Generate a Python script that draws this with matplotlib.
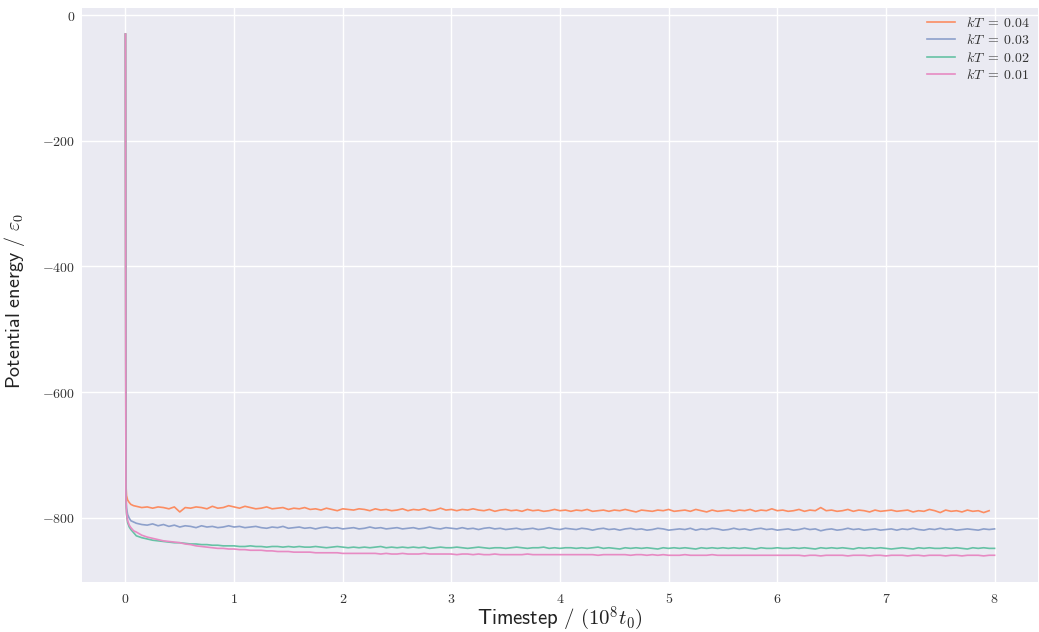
import numpy as np
import matplotlib
matplotlib.use("Agg")
import matplotlib.pyplot as plt
from matplotlib.ticker import FuncFormatter

# time axis in units of 1e8 t0: a few early samples, then every 0.05
early_t = [0.0, 0.004, 0.01, 0.02, 0.035, 0.05, 0.075]
grid_t = np.round(np.arange(0.1, 8.0001, 0.05), 3)

labels = [r"$kT\;=\;0.04$", r"$kT\;=\;0.03$", r"$kT\;=\;0.02$", r"$kT\;=\;0.01$"]
colors = ["#fc8d62", "#8da0cb", "#66c2a5", "#e78ac3"]

energy_kt004 = [
    -30, -745, -765, -772, -776, -779, -781,
    -782, -784, -783, -785, -783, -784, -786, -783, -791, -784,
    -785, -783, -784, -786, -782, -785, -784, -781, -783, -785,
    -782, -784, -786, -785, -783, -786, -785, -784, -787, -785,
    -786, -784, -787, -786, -788, -785, -787, -789, -786, -787,
    -788, -786, -787, -789, -786, -788, -787, -789, -788, -786,
    -789, -787, -788, -786, -789, -788, -785, -788, -787, -789,
    -787, -788, -786, -788, -789, -787, -790, -788, -787, -789,
    -788, -790, -787, -789, -788, -790, -789, -787, -789, -788,
    -790, -788, -789, -787, -790, -789, -788, -790, -788, -789,
    -787, -789, -791, -788, -789, -790, -788, -789, -787, -790,
    -789, -788, -790, -787, -789, -791, -788, -790, -789, -788,
    -790, -788, -789, -787, -790, -788, -789, -786, -789, -788,
    -790, -789, -787, -790, -788, -789, -784, -789, -788, -790,
    -789, -787, -790, -788, -789, -791, -788, -790, -789, -788,
    -790, -789, -788, -791, -789, -790, -787, -789, -792, -788,
    -790, -789, -791, -788, -790, -789, -792, -789,
]

energy_kt003 = [
    -30, -760, -785, -795, -801, -805, -807,
    -809, -811, -812, -810, -813, -811, -814, -812, -815, -813,
    -814, -816, -813, -815, -814, -816, -815, -813, -815, -814,
    -816, -815, -814, -816, -817, -815, -816, -814, -817, -816,
    -815, -817, -816, -818, -816, -815, -817, -816, -818, -817,
    -816, -818, -817, -815, -817, -816, -818, -817, -816, -818,
    -817, -816, -818, -817, -815, -817, -818, -816, -817, -818,
    -816, -818, -817, -819, -817, -816, -818, -817, -819, -818,
    -817, -819, -818, -817, -819, -818, -816, -818, -819, -817,
    -818, -819, -817, -818, -820, -818, -817, -819, -818, -820,
    -818, -817, -819, -818, -820, -819, -817, -818, -820, -819,
    -818, -819, -817, -820, -818, -819, -817, -818, -820, -819,
    -817, -819, -818, -820, -818, -817, -819, -818, -820, -819,
    -818, -820, -819, -817, -819, -818, -821, -819, -818, -820,
    -819, -817, -819, -818, -820, -819, -818, -820, -819, -818,
    -820, -818, -819, -817, -819, -820, -818, -819, -817, -819,
    -818, -820, -819, -818, -819, -820, -818, -819, -818,
]

energy_kt002 = [
    -30, -770, -795, -808, -815, -819, -824,
    -829, -832, -834, -836, -837, -838, -839, -840, -840, -841,
    -842, -842, -843, -843, -844, -844, -845, -845, -845, -846,
    -846, -845, -846, -846, -847, -846, -846, -847, -846, -847,
    -846, -847, -847, -846, -847, -848, -847, -846, -847, -848,
    -847, -848, -847, -848, -847, -846, -848, -847, -848, -847,
    -848, -847, -848, -847, -849, -848, -847, -848, -848, -847,
    -848, -849, -848, -847, -848, -849, -848, -848, -849, -848,
    -847, -848, -849, -848, -848, -847, -849, -848, -849, -848,
    -848, -849, -848, -849, -848, -847, -849, -848, -849, -850,
    -848, -849, -848, -849, -848, -849, -850, -848, -849, -848,
    -849, -848, -849, -850, -848, -849, -848, -849, -848, -849,
    -848, -849, -848, -849, -850, -848, -849, -849, -848, -849,
    -849, -848, -849, -848, -849, -850, -848, -849, -848, -849,
    -848, -849, -850, -848, -849, -848, -849, -848, -849, -850,
    -849, -848, -849, -850, -848, -849, -848, -849, -849, -848,
    -849, -848, -849, -850, -848, -849, -848, -849, -849,
]

energy_kt001 = [
    -30, -768, -792, -805, -812, -816, -821,
    -823, -828, -831, -833, -835, -837, -838, -839, -840, -842,
    -843, -845, -846, -847, -848, -849, -849, -850, -850, -851,
    -851, -852, -852, -852, -853, -853, -854, -854, -854, -855,
    -855, -855, -855, -856, -856, -856, -856, -856, -857, -857,
    -857, -857, -857, -857, -857, -858, -857, -858, -858, -857,
    -858, -858, -858, -857, -858, -858, -858, -858, -858, -859,
    -858, -858, -859, -858, -859, -859, -858, -859, -859, -859,
    -859, -859, -858, -859, -859, -859, -859, -859, -859, -859,
    -859, -859, -859, -859, -859, -860, -859, -859, -859, -859,
    -859, -860, -859, -859, -860, -859, -860, -859, -860, -860,
    -860, -859, -860, -860, -860, -860, -859, -860, -860, -860,
    -860, -860, -860, -860, -860, -860, -860, -860, -860, -860,
    -860, -860, -860, -861, -860, -860, -861, -860, -860, -860,
    -860, -861, -860, -860, -860, -861, -860, -860, -861, -860,
    -860, -860, -861, -860, -860, -861, -860, -860, -860, -861,
    -860, -860, -861, -860, -860, -860, -861, -860, -860,
]

series = [energy_kt004, energy_kt003, energy_kt002, energy_kt001]

plt.rcParams["mathtext.fontset"] = "cm"

fig = plt.figure(figsize=(10.39, 6.32), dpi=100)
# axes box: x 82..1038 px, y 8..582 px
ax = fig.add_axes([82 / 1039, 50 / 632, 956 / 1039, 574 / 632])
ax.set_facecolor("#EAEAF2")
for s in ax.spines.values():
    s.set_visible(False)
ax.grid(True, color="white", linewidth=1.0)
ax.set_axisbelow(True)
ax.tick_params(length=0, labelsize=10, labelcolor="#333333")
ax.tick_params(axis="x", pad=7)
ax.tick_params(axis="y", pad=5)

time = np.concatenate([early_t, grid_t])
for vals, lab, col in zip(series, labels, colors):
    ax.plot(time[:len(vals)], vals, color=col, linewidth=1.2, label=lab)

ax.xaxis.set_major_formatter(FuncFormatter(lambda v, p: f"${v:g}$"))
ax.yaxis.set_major_formatter(FuncFormatter(lambda v, p: f"${v:g}$"))
ax.set_yticks([0, -200, -400, -600, -800])

ax.set_xlabel(r"$\mathsf{Timestep}\ /\ (10^8 t_0)$", fontsize=15, color="#222222")
ax.set_ylabel(r"$\mathsf{Potential\ energy}\ /\ \varepsilon_0$", fontsize=14.5, color="#222222")
ax.xaxis.set_label_coords(0.5, -0.04)
ax.yaxis.set_label_coords(-0.058, 0.49)

leg = ax.legend(loc="upper right", frameon=False, fontsize=10,
                labelspacing=0.25, handlelength=2.0, borderaxespad=0.15)
for t in leg.get_texts():
    t.set_color("#333333")

fig.savefig("out.png", dpi=100)
